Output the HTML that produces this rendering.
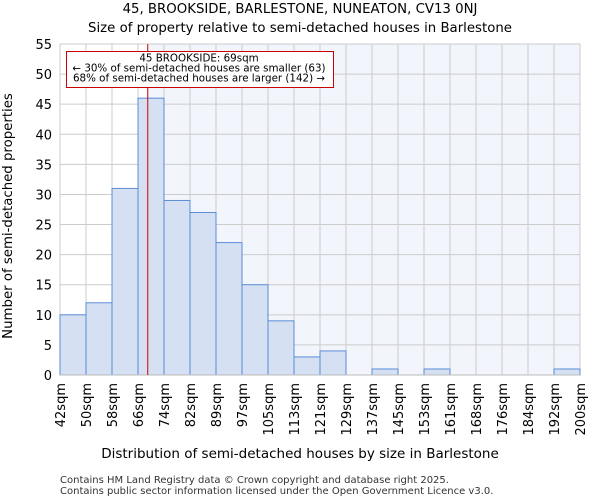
<!DOCTYPE html>
<html><head><meta charset="utf-8"><style>
body{margin:0;background:#fff;font-family:"DejaVu Sans","Liberation Sans",sans-serif}
</style></head><body>
<svg id="c" width="600" height="500" xmlns="http://www.w3.org/2000/svg" font-family="DejaVu Sans, Liberation Sans, sans-serif">
<text x="300" y="13" text-anchor="middle" font-size="13.3">45, BROOKSIDE, BARLESTONE, NUNEATON, CV13 0NJ</text>
<text x="300" y="32" text-anchor="middle" font-size="13.3">Size of property relative to semi-detached houses in Barlestone</text>
<g id="plot"></g>
<text x="300" y="458" text-anchor="middle" font-size="13.5">Distribution of semi-detached houses by size in Barlestone</text>
<text transform="translate(12,216) rotate(-90)" text-anchor="middle" font-size="13.3">Number of semi-detached properties</text>
<text x="60" y="483" font-size="10" fill="#333">Contains HM Land Registry data © Crown copyright and database right 2025.</text>
<text x="60" y="494" font-size="10" fill="#333">Contains public sector information licensed under the Open Government Licence v3.0.</text>
</svg>
<script>
const categories=["42sqm","50sqm","58sqm","66sqm","74sqm","82sqm","89sqm","97sqm","105sqm","113sqm","121sqm","129sqm","137sqm","145sqm","153sqm","161sqm","168sqm","176sqm","184sqm","192sqm","200sqm"];
const counts=[10,12,31,46,29,27,22,15,9,3,4,0,1,0,1,0,0,0,0,1];
const yTicks=[0,5,10,15,20,25,30,35,40,45,50,55];
const propertyBinPos=3.375;
const annotation=["45 BROOKSIDE: 69sqm","← 30% of semi-detached houses are smaller (63)","68% of semi-detached houses are larger (142) →"];
const NS="http://www.w3.org/2000/svg";
const L=60,R=580,T=44,B=375,yMax=55;
const n=counts.length;
const x=i=>L+(R-L)*i/n;
const y=v=>B-(B-T)*v/yMax;
const g=document.getElementById('plot');
function mk(t,a){const e=document.createElementNS(NS,t);for(const k in a)e.setAttribute(k,a[k]);g.appendChild(e);return e;}
const px=x(propertyBinPos);
let e=mk('rect',{x:L,y:T,width:px-L,height:B-T,fill:'#ffffff'});


e=mk('rect',{x:px,y:T,width:R-px,height:B-T,fill:'#f2f5fc'});


yTicks.forEach(v=>{
 const l=mk('line',{x1:L,x2:R,y1:y(v),y2:y(v),stroke:'#cccccc'});
 
 
 const t=mk('text',{x:L-8,y:y(v)+5,'text-anchor':'end','font-size':13});
 t.textContent=v;
 
 
});
categories.forEach((c,i)=>{
 const l=mk('line',{x1:x(i),x2:x(i),y1:T,y2:B,stroke:'#cccccc'});
 
 
 const t=mk('text',{transform:`translate(${x(i)+5},${B+8}) rotate(-90)`,'text-anchor':'end','font-size':13});
 t.textContent=c;
 
 
});
counts.forEach((v,i)=>{
 if(v<=0)return;
 const r=mk('rect',{x:x(i),y:y(v),width:x(i+1)-x(i),height:B-y(v),fill:'#d6e0f3',stroke:'#5b8dd6','stroke-width':1});
 
 
});
e=mk('line',{x1:L,x2:R,y1:B,y2:B,stroke:'#bbbbbb'});


e=mk('line',{x1:px,x2:px,y1:T,y2:B,stroke:'#cc0000','stroke-width':1});


e=mk('rect',{x:66.5,y:51.5,width:267,height:36,fill:'#ffffff',stroke:'#cc0000','stroke-width':1});


annotation.forEach((s,i)=>{
 const t=mk('text',{x:199,y:61.5+i*10,'text-anchor':'middle','font-size':10.3});
 t.textContent=s;
 
 
});
</script>
</body></html>
